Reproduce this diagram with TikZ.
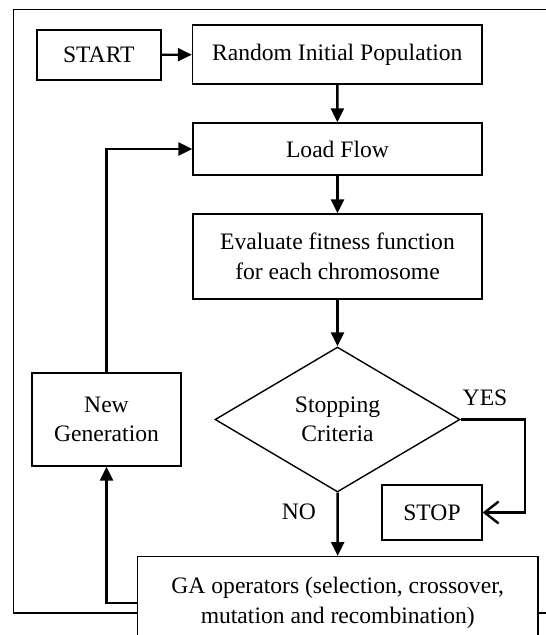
\documentclass[tikz,border=0pt]{standalone}
\usepackage{fontspec}
\setmainfont{Liberation Serif}
\usetikzlibrary{arrows.meta,shapes.geometric}
\newcommand\myfont{\fontsize{23.6}{29.5}\selectfont}
\begin{document}
\begin{tikzpicture}[x=1pt,y=-1pt,
  box/.style={draw,line width=1.4pt,fill=white,inner sep=0pt,align=center,font=\myfont},
  flow/.style={line width=2.4pt,-{Triangle[length=14pt,width=13pt]}},
  yesflow/.style={line width=2.4pt,-{Straight Barb[length=14pt,width=22pt,line width=2.4pt]}},
  lbl/.style={font=\myfont,inner sep=0pt}]
\useasboundingbox (0,0) rectangle (546,635);
\clip (0,0) rectangle (546,635);
% outer frame (cropped on the right)
\draw[line width=1.1pt] (570,9.4) -- (13.6,9.4) -- (13.6,613) -- (570,613);
% nodes
\node[box,minimum width=124pt,minimum height=50pt] (start) at (98.8,54.8) {START};
\node[box,minimum width=289.5pt,minimum height=59pt] (rip) at (337.25,54.5) {Random Initial Population};
\node[box,minimum width=289pt,minimum height=52pt] (lf) at (337.5,149) {Load Flow};
\node[box,minimum width=289pt,minimum height=85pt] (eval) at (337.5,256.5) {Evaluate fitness function\\for each chromosome};
\node[box,diamond,minimum width=245pt,minimum height=145pt] (sc) at (337.5,419.5) {Stopping\\Criteria};
\node[box,minimum width=100pt,minimum height=55pt] (stop) at (432,512.5) {STOP};
\node[box,minimum width=149pt,minimum height=93pt] (ng) at (106.5,419.5) {New\\Generation};
\node[box,minimum width=400.5pt,minimum height=92pt,anchor=north] (ga) at (337.75,556) {GA operators (selection, crossover,\\mutation and recombination)};
% connectors
\draw[flow] (start) -- (rip);
\draw[flow] (rip) -- (lf);
\draw[flow] (lf) -- (eval);
\draw[flow] (eval) -- (sc);
\draw[flow] (sc) -- (ga);
\coordinate (yr) at (525,419.5);
\draw[yesflow] (sc.east) -- (yr) |- (stop.east);
\draw[flow] (ga.west) -| (ng.south);
\draw[flow] (ng.north) |- (lf.west);
% labels
\node[lbl] (no) at (299,512) {NO};
\node[lbl] (yes) at (485,398) {YES};
\end{tikzpicture}
\end{document}
